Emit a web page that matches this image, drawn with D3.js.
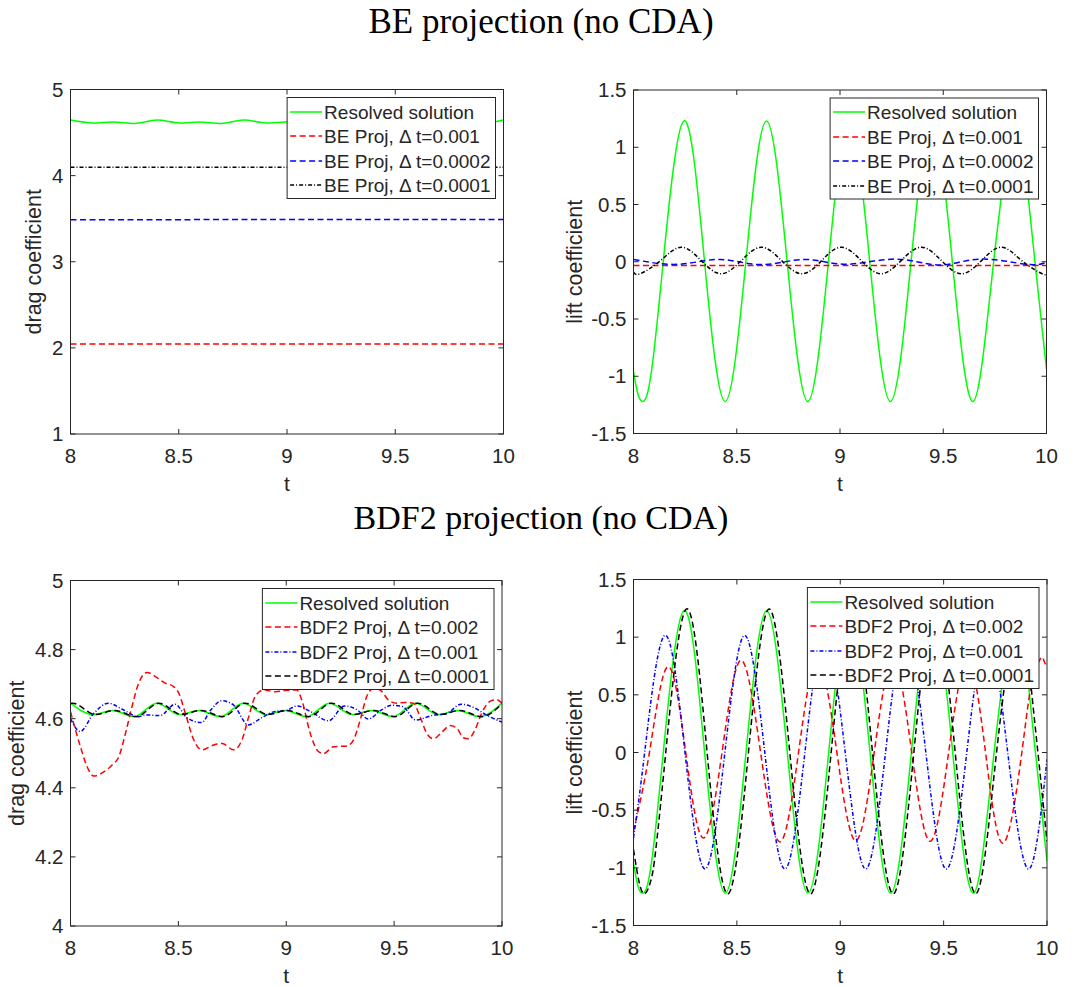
<!DOCTYPE html>
<html>
<head>
<meta charset="utf-8">
<script src="https://cdn.jsdelivr.net/npm/d3@7"></script>
<style>
  body { margin: 0; background: #fff; }
  svg { display: block; }
  text { font-family: "Liberation Sans", Arial, sans-serif; fill: #262626; }
</style>
</head>
<body>
<div id="chart"></div>
<script>
// ---- axis ticks ----
const timeTicks = [8, 8.5, 9, 9.5, 10];
const timeTickLabels = ['8', '8.5', '9', '9.5', '10'];
const beDragTicks = [1, 2, 3, 4, 5];
const beDragTickLabels = ['1', '2', '3', '4', '5'];
const bdfDragTicks = [4, 4.2, 4.4, 4.6, 4.8, 5];
const bdfDragTickLabels = ['4', '4.2', '4.4', '4.6', '4.8', '5'];
const liftTicks = [-1.5, -1, -0.5, 0, 0.5, 1, 1.5];
const liftTickLabels = ['-1.5', '-1', '-0.5', '0', '0.5', '1', '1.5'];

// ---- resolved solution ----
const dragResolvedT = [8.0, 8.105, 8.195, 8.295, 8.4, 8.505, 8.595, 8.695, 8.8, 8.905, 8.995, 9.095, 9.2, 9.305, 9.395, 9.495, 9.6, 9.705, 9.795, 9.895, 10.0];
const dragResolvedV = [4.645, 4.612, 4.624, 4.606, 4.645, 4.612, 4.624, 4.606, 4.645, 4.612, 4.624, 4.606, 4.645, 4.612, 4.624, 4.606, 4.645, 4.612, 4.624, 4.606, 4.645];
const liftResolvedT = [8.0, 8.022, 8.044, 8.066, 8.094, 8.144, 8.244, 8.344, 8.444, 8.544, 8.644, 8.744, 8.844, 8.944, 9.044, 9.144, 9.244, 9.344, 9.444, 9.544, 9.644, 9.744, 9.844, 9.894, 9.944, 10.0];
const liftResolvedV = [-0.96, -1.16, -1.22, -1.16, -0.86, 0.0, 1.23, 0.0, -1.22, 0.0, 1.23, 0.0, -1.22, 0.0, 1.23, 0.0, -1.22, 0.0, 1.23, 0.0, -1.22, 0.0, 1.23, 0.87, 0.0, -0.94];

// ---- BE projection ----
const beDrag001T = [8, 10];
const beDrag001V = [2.045, 2.045];
const beDrag0002T = [8, 10];
const beDrag0002V = [3.488, 3.492];
const beDrag0001T = [8, 10];
const beDrag0001V = [4.096, 4.096];

const beLift001T = [8, 10];
const beLift001V = [-0.033, -0.033];
const beLift0002T = [8.0, 8.22, 8.42, 8.62, 8.83, 9.03, 9.27, 9.48, 9.68, 9.9, 10.0];
const beLift0002V = [0.02, -0.022, 0.02, -0.025, 0.02, -0.022, 0.023, -0.028, 0.023, -0.022, -0.005];
const beLift0001T = [8.0, 8.032, 8.131, 8.231, 8.328, 8.425, 8.522, 8.619, 8.717, 8.816, 8.911, 9.006, 9.103, 9.199, 9.296, 9.394, 9.491, 9.588, 9.685, 9.782, 9.88, 9.979, 10.0];
const beLift0001V = [-0.09, -0.105, 0.01, 0.127, 0.01, -0.105, 0.01, 0.127, 0.01, -0.105, 0.01, 0.127, 0.01, -0.105, 0.01, 0.127, 0.01, -0.105, 0.01, 0.127, 0.01, -0.105, -0.1];

// ---- BDF2 projection ----
const bdfDrag002T = [8.0, 8.046, 8.077, 8.108, 8.154, 8.193, 8.224, 8.255, 8.285, 8.316, 8.355, 8.394, 8.432, 8.478, 8.502, 8.532, 8.571, 8.609, 8.664, 8.703, 8.756, 8.795, 8.826, 8.856, 8.895, 8.95, 9.0, 9.049, 9.072, 9.111, 9.149, 9.173, 9.219, 9.281, 9.312, 9.343, 9.373, 9.404, 9.435, 9.474, 9.512, 9.551, 9.589, 9.62, 9.651, 9.682, 9.72, 9.759, 9.79, 9.821, 9.844, 9.875, 9.906, 9.944, 9.975, 10.0];
const bdfDrag002V = [4.62, 4.519, 4.461, 4.434, 4.446, 4.466, 4.49, 4.558, 4.635, 4.703, 4.734, 4.722, 4.705, 4.693, 4.674, 4.616, 4.539, 4.51, 4.524, 4.528, 4.51, 4.539, 4.606, 4.664, 4.683, 4.678, 4.682, 4.683, 4.654, 4.558, 4.505, 4.499, 4.519, 4.521, 4.539, 4.597, 4.664, 4.688, 4.683, 4.654, 4.645, 4.647, 4.645, 4.606, 4.558, 4.542, 4.56, 4.58, 4.573, 4.545, 4.542, 4.568, 4.616, 4.65, 4.655, 4.645];
const bdfDrag001T = [8.0, 8.045, 8.106, 8.176, 8.238, 8.315, 8.35, 8.415, 8.485, 8.539, 8.608, 8.65, 8.7, 8.755, 8.824, 8.886, 8.948, 9.0, 9.05, 9.111, 9.196, 9.27, 9.33, 9.38, 9.44, 9.49, 9.54, 9.6, 9.68, 9.74, 9.81, 9.87, 9.93, 10.0];
const bdfDrag001V = [4.6, 4.563, 4.614, 4.645, 4.628, 4.606, 4.611, 4.609, 4.642, 4.603, 4.589, 4.625, 4.652, 4.64, 4.582, 4.603, 4.621, 4.624, 4.637, 4.621, 4.594, 4.637, 4.625, 4.599, 4.625, 4.639, 4.635, 4.596, 4.61, 4.614, 4.642, 4.632, 4.61, 4.59];
const bdfDrag0001T = [8.0, 8.01, 8.115, 8.205, 8.305, 8.41, 8.515, 8.605, 8.705, 8.81, 8.915, 9.005, 9.105, 9.21, 9.315, 9.405, 9.505, 9.61, 9.715, 9.805, 9.905, 10.0];
const bdfDrag0001V = [4.644, 4.645, 4.612, 4.624, 4.606, 4.645, 4.612, 4.624, 4.606, 4.645, 4.612, 4.624, 4.606, 4.645, 4.612, 4.624, 4.606, 4.645, 4.612, 4.624, 4.606, 4.643];

const bdfLift002T = [8.0, 8.078, 8.166, 8.252, 8.338, 8.429, 8.52, 8.614, 8.708, 8.799, 8.89, 8.983, 9.075, 9.165, 9.255, 9.345, 9.435, 9.525, 9.615, 9.702, 9.789, 9.879, 9.924, 9.968, 9.985, 10.0];
const bdfLift002V = [-0.68, 0.01, 0.745, 0.01, -0.742, 0.01, 0.8, 0.01, -0.775, 0.01, 0.8, 0.01, -0.765, 0.01, 0.8, 0.01, -0.77, 0.01, 0.8, 0.01, -0.785, 0.01, 0.58, 0.813, 0.795, 0.75];
const bdfLift001T = [8.0, 8.054, 8.151, 8.249, 8.346, 8.442, 8.538, 8.635, 8.732, 8.829, 8.925, 9.024, 9.123, 9.219, 9.315, 9.414, 9.513, 9.612, 9.71, 9.81, 9.91, 10.0];
const bdfLift001V = [-0.74, 0.0, 1.015, 0.0, -1.01, 0.0, 1.015, 0.0, -1.01, 0.0, 1.015, 0.0, -1.01, 0.0, 1.015, 0.0, -1.01, 0.0, 1.015, 0.0, -1.01, -0.06];
const bdfLift0001T = [8.0, 8.028, 8.056, 8.084, 8.106, 8.156, 8.256, 8.356, 8.456, 8.556, 8.656, 8.756, 8.856, 8.956, 9.056, 9.156, 9.256, 9.356, 9.456, 9.556, 9.656, 9.756, 9.856, 9.906, 9.956, 10.0];
const bdfLift0001V = [-0.84, -1.13, -1.225, -1.11, -0.87, 0.0, 1.245, 0.0, -1.225, 0.0, 1.245, 0.0, -1.225, 0.0, 1.245, 0.0, -1.225, 0.0, 1.245, 0.0, -1.225, 0.0, 1.245, 0.88, 0.0, -0.77];

const DASHED = '6,3.5';
const DASHDOT = '4,2,1,2';

function renderChart(container) {
    const svg = d3.select(container).append('svg').attr('width', 1083).attr('height', 987);
    svg.append('rect').attr('width', 1083).attr('height', 987).attr('fill', '#fff');

    svg.append('text').text('BE projection (no CDA)').attr('x', 541).attr('y', 33)
        .attr('text-anchor', 'middle').style('font-family', '"Liberation Serif", "Times New Roman", serif')
        .style('font-size', '35px').style('fill', '#000');
    svg.append('text').text('BDF2 projection (no CDA)').attr('x', 541).attr('y', 529)
        .attr('text-anchor', 'middle').style('font-family', '"Liberation Serif", "Times New Roman", serif')
        .style('font-size', '34px').style('fill', '#000');

    const panels = [
        { box: [70.5, 503.5, 89.5, 434], yDomain: [1, 5], yTicks: beDragTicks, yLabels: beDragTickLabels,
          yTitle: 'drag coefficient', yTitleOff: 30, curve: d3.curveMonotoneX,
          series: [
            { t: dragResolvedT, v: dragResolvedV, color: '#00ff00', dash: null, name: 'Resolved solution' },
            { t: beDrag001T, v: beDrag001V, color: '#ff0000', dash: DASHED, name: 'BE Proj, \u0394 t=0.001' },
            { t: beDrag0002T, v: beDrag0002V, color: '#0000ff', dash: DASHED, name: 'BE Proj, \u0394 t=0.0002' },
            { t: beDrag0001T, v: beDrag0001V, color: '#000000', dash: DASHDOT, name: 'BE Proj, \u0394 t=0.0001' }
          ] },
        { box: [633.5, 1046.5, 90, 433.5], yDomain: [-1.5, 1.5], yTicks: liftTicks, yLabels: liftTickLabels,
          yTitle: 'lift coefficient', yTitleOff: 52, curve: d3.curveNatural,
          series: [
            { t: liftResolvedT, v: liftResolvedV, color: '#00ff00', dash: null, name: 'Resolved solution' },
            { t: beLift001T, v: beLift001V, color: '#ff0000', dash: DASHED, name: 'BE Proj, \u0394 t=0.001' },
            { t: beLift0002T, v: beLift0002V, color: '#0000ff', dash: DASHED, name: 'BE Proj, \u0394 t=0.0002' },
            { t: beLift0001T, v: beLift0001V, color: '#000000', dash: DASHDOT, name: 'BE Proj, \u0394 t=0.0001' }
          ] },
        { box: [70.5, 502, 580.5, 926], yDomain: [4, 5], yTicks: bdfDragTicks, yLabels: bdfDragTickLabels,
          yTitle: 'drag coefficient', yTitleOff: 47, curve: d3.curveMonotoneX,
          series: [
            { t: dragResolvedT, v: dragResolvedV, color: '#00ff00', dash: null, name: 'Resolved solution' },
            { t: bdfDrag002T, v: bdfDrag002V, color: '#ff0000', dash: DASHED, name: 'BDF2 Proj, \u0394 t=0.002' },
            { t: bdfDrag001T, v: bdfDrag001V, color: '#0000ff', dash: DASHDOT, name: 'BDF2 Proj, \u0394 t=0.001' },
            { t: bdfDrag0001T, v: bdfDrag0001V, color: '#000000', dash: DASHED, name: 'BDF2 Proj, \u0394 t=0.0001' }
          ] },
        { box: [633.5, 1047, 579.5, 925.5], yDomain: [-1.5, 1.5], yTicks: liftTicks, yLabels: liftTickLabels,
          yTitle: 'lift coefficient', yTitleOff: 52, curve: d3.curveNatural,
          series: [
            { t: liftResolvedT, v: liftResolvedV, color: '#00ff00', dash: null, name: 'Resolved solution' },
            { t: bdfLift002T, v: bdfLift002V, color: '#ff0000', dash: DASHED, name: 'BDF2 Proj, \u0394 t=0.002' },
            { t: bdfLift001T, v: bdfLift001V, color: '#0000ff', dash: DASHDOT, name: 'BDF2 Proj, \u0394 t=0.001' },
            { t: bdfLift0001T, v: bdfLift0001V, color: '#000000', dash: DASHED, name: 'BDF2 Proj, \u0394 t=0.0001' }
          ] }
    ];

    panels.forEach((p, pi) => {
        const [x0, x1, y0, y1] = p.box;
        const x = d3.scaleLinear().domain([8, 10]).range([x0, x1]);
        const y = d3.scaleLinear().domain(p.yDomain).range([y1, y0]);
        const g = svg.append('g');

        const clipId = 'clip' + pi;
        g.append('clipPath').attr('id', clipId).append('rect')
            .attr('x', x0).attr('y', y0).attr('width', x1 - x0).attr('height', y1 - y0);

        const plot = g.append('g').attr('clip-path', `url(#${clipId})`);
        p.series.forEach(s => {
            const pts = s.t.map((t, i) => [t, s.v[i]]);
            const line = d3.line().x(d => x(d[0])).y(d => y(d[1])).curve(p.curve);
            plot.append('path').attr('d', line(pts)).attr('fill', 'none')
                .attr('stroke', s.color).attr('stroke-width', 1.5)
                .attr('stroke-dasharray', s.dash);
        });

        // axes box with inward ticks on all sides
        const axisColor = '#262626';
        const tl = 5;
        const ax = g.append('g');
        ax.append('rect').attr('x', x0).attr('y', y0).attr('width', x1 - x0).attr('height', y1 - y0)
            .attr('fill', 'none').attr('stroke', axisColor).attr('stroke-width', 1);
        timeTicks.forEach((t, i) => {
            const xx = x(t);
            ax.append('line').attr('x1', xx).attr('x2', xx).attr('y1', y1).attr('y2', y1 - tl).attr('stroke', axisColor);
            ax.append('line').attr('x1', xx).attr('x2', xx).attr('y1', y0).attr('y2', y0 + tl).attr('stroke', axisColor);
            ax.append('text').text(timeTickLabels[i]).attr('x', xx).attr('y', y1 + 29)
                .attr('text-anchor', 'middle').style('font-size', '20.5px');
        });
        p.yTicks.forEach((v, i) => {
            const yy = y(v);
            ax.append('line').attr('x1', x0).attr('x2', x0 + tl).attr('y1', yy).attr('y2', yy).attr('stroke', axisColor);
            ax.append('line').attr('x1', x1).attr('x2', x1 - tl).attr('y1', yy).attr('y2', yy).attr('stroke', axisColor);
            ax.append('text').text(p.yLabels[i]).attr('x', x0 - 7).attr('y', yy + 7)
                .attr('text-anchor', 'end').style('font-size', '20.5px');
        });
        ax.append('text').text('t').attr('x', (x0 + x1) / 2).attr('y', y1 + 57)
            .attr('text-anchor', 'middle').style('font-size', '21px');
        ax.append('text').text(p.yTitle)
            .attr('transform', `translate(${x0 - p.yTitleOff},${(y0 + y1) / 2}) rotate(-90)`)
            .attr('text-anchor', 'middle').style('font-size', '21.5px');

        // legend
        const leg = g.append('g');
        const legBox = leg.append('rect').attr('fill', '#fff').attr('stroke', axisColor).attr('stroke-width', 1);
        const rowH = 24.5;
        let maxW = 0;
        const texts = p.series.map((s, i) => {
            const tx = leg.append('text').text(s.name).style('font-size', '19px');
            maxW = Math.max(maxW, tx.node().getComputedTextLength());
            return tx;
        });
        const bw = maxW + 42;
        const bx = x1 - 8 - bw;
        const by = y0 + 8;
        legBox.attr('x', bx).attr('y', by).attr('width', bw).attr('height', rowH * 4 + 3);
        p.series.forEach((s, i) => {
            const cy = Math.round(by + 14 + i * rowH);
            leg.append('line').attr('x1', bx + 3).attr('x2', bx + 35).attr('y1', cy).attr('y2', cy)
                .attr('stroke', s.color).attr('stroke-width', 1.5).attr('stroke-dasharray', s.dash);
            texts[i].attr('x', bx + 37).attr('y', cy + 7);
        });
    });
}

renderChart('#chart');
</script>
</body>
</html>
